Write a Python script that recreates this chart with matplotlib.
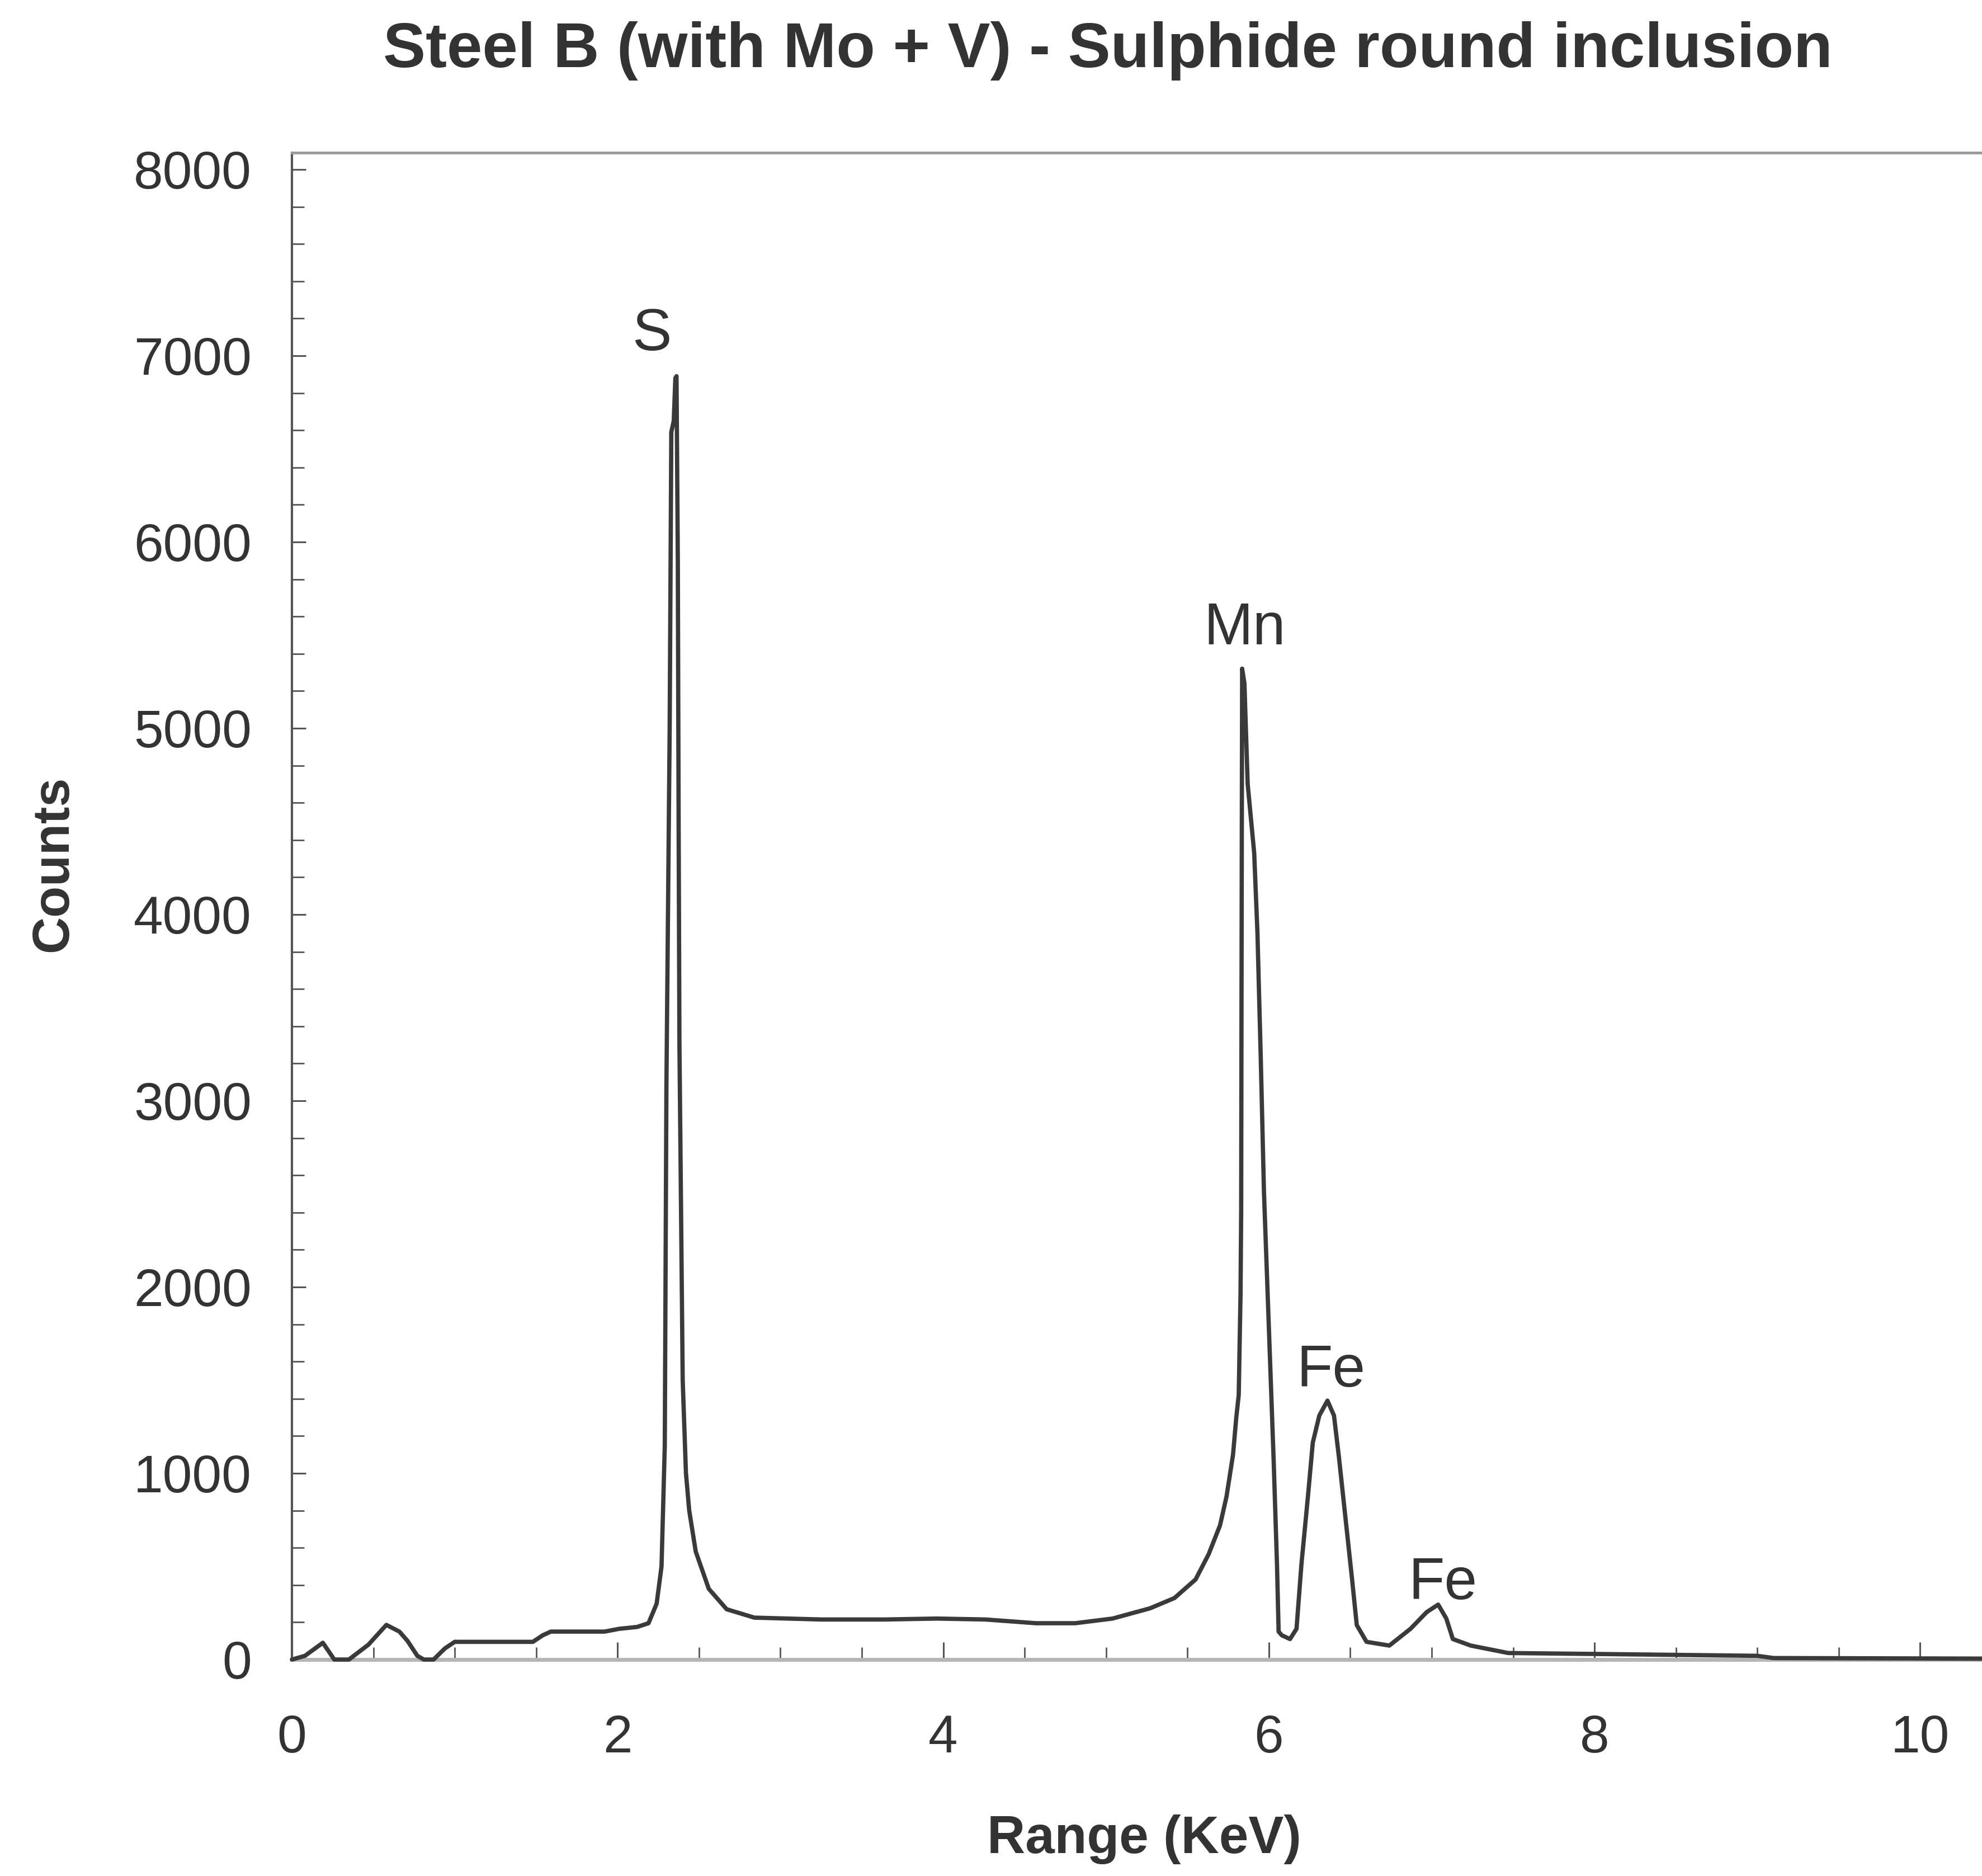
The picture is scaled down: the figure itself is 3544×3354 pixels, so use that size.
import matplotlib
matplotlib.use("Agg")
import matplotlib.pyplot as plt
from matplotlib.ticker import MultipleLocator

plt.rcParams['font.family'] = ['Liberation Sans', 'DejaVu Sans']

# ---- data ----
energy_kev = [0.00, 0.08, 0.19, 0.26, 0.35, 0.47, 0.58, 0.66, 0.71, 0.77, 0.81, 0.87,
              0.94, 1.00, 1.48, 1.54, 1.59, 1.92, 2.01, 2.12, 2.19, 2.24, 2.27, 2.29,
              2.30, 2.32, 2.33, 2.345, 2.355, 2.362, 2.37, 2.375, 2.38, 2.39, 2.40, 2.42,
              2.44, 2.48, 2.56, 2.67, 2.84, 3.25, 3.64, 3.96, 4.26, 4.57, 4.81, 5.04,
              5.27, 5.42, 5.55, 5.63, 5.70, 5.74, 5.78, 5.80, 5.815, 5.826, 5.83, 5.832,
              5.834, 5.836, 5.85, 5.87, 5.91, 5.93, 5.95, 5.97, 6.00, 6.03, 6.05, 6.06,
              6.08, 6.13, 6.17, 6.20, 6.24, 6.27, 6.31, 6.36, 6.40, 6.43, 6.47, 6.51,
              6.54, 6.60, 6.74, 6.87, 6.97, 7.04, 7.09, 7.13, 7.24, 7.47, 8.00, 9.00,
              9.10, 10.38]
counts = [0, 20, 90, 0, 0, 80, 186, 150, 100, 20, 0, 0,
          60, 95, 95, 130, 150, 150, 165, 175, 195, 300, 500, 1150,
          3080, 5000, 6590, 6650, 6880, 6890, 5900, 4500, 3300, 2400, 1500, 1000,
          800, 580, 380, 270, 225, 215, 215, 220, 215, 195, 195, 220,
          275, 330, 430, 565, 720, 875, 1100, 1300, 1420, 1960, 2400, 3500,
          4500, 5320, 5240, 4700, 4330, 3900, 3240, 2510, 1785, 1057, 510, 150,
          130, 110, 165, 510, 875, 1165, 1310, 1390, 1310, 1090, 765, 440,
          185, 95, 75, 165, 255, 295, 220, 110, 75, 35, 30, 20,
          8, 5]

peak_labels = ["S", "Mn", "Fe", "Fe"]
peak_label_x = [2.21, 5.85, 6.38, 7.07]
peak_label_y = [7031, 5450, 1465, 324]

x_ticks = [0, 2, 4, 6, 8, 10]
y_ticks = [0, 1000, 2000, 3000, 4000, 5000, 6000, 7000, 8000]

title = "Steel B (with Mo + V) - Sulphide round inclusion"
x_label = "Range (KeV)"
y_label = "Counts"

# ---- figure ----
W, H = 3544, 3354
fig = plt.figure(figsize=(W / 100, H / 100), dpi=100)
fig.patch.set_facecolor('white')

left, bottom, top = 522 / W, 1 - 2967 / H, 1 - 273 / H
ax = fig.add_axes([left, bottom, 1.0 - left, top - bottom])

text_col = '#333333'
ax.plot(energy_kev, counts, color='#3a3a3a', lw=5.5, solid_joinstyle='round',
        solid_capstyle='round', clip_on=False, zorder=3)

ax.set_xlim(0, 10.38)
ax.set_ylim(0, 8090)
ax.set_xticks(x_ticks)
ax.set_yticks(y_ticks)
ax.xaxis.set_minor_locator(MultipleLocator(0.5))
ax.yaxis.set_minor_locator(MultipleLocator(200))

ax.spines['right'].set_visible(False)
ax.spines['left'].set_color('#555555')
ax.spines['left'].set_linewidth(3)
ax.spines['top'].set_color('#9a9a9a')
ax.spines['top'].set_linewidth(3.5)
ax.spines['bottom'].set_color('#b5b5b5')
ax.spines['bottom'].set_linewidth(5)

ax.tick_params(axis='both', which='both', direction='in', colors='#555555',
               labelcolor=text_col)
ax.tick_params(axis='x', which='major', length=22, width=2.2, labelsize=68, pad=70)
ax.tick_params(axis='x', which='minor', length=16, width=2.0)
ax.tick_params(axis='y', which='major', length=18, width=2.2, labelsize=68, pad=52)
ax.tick_params(axis='y', which='minor', length=16, width=2.0)
ax.tick_params(axis='y', which='both', right=False)
ax.tick_params(axis='x', which='both', top=False)

for lab, lx, ly in zip(peak_labels, peak_label_x, peak_label_y):
    ax.text(lx, ly, lab, ha='center', va='baseline', fontsize=76, color=text_col)

fig.text(1981 / W, 1 - 120 / H, title, ha='center', va='baseline',
         fontsize=82, fontweight='bold', color=text_col)
fig.text(2046 / W, 1 - 3313 / H, x_label, ha='center', va='baseline',
         fontsize=68, fontweight='bold', color=text_col)
fig.text(96 / W, 1 - 1544 / H, y_label, ha='center', va='center', rotation=90,
         fontsize=66, fontweight='bold', color=text_col)

fig.savefig("out.png", dpi=100, facecolor='white')
